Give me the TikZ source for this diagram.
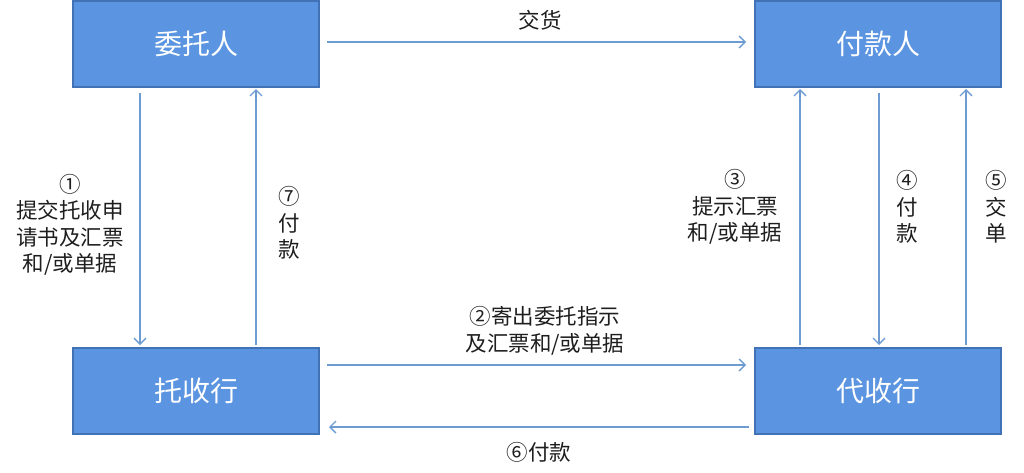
\documentclass[tikz,border=0pt]{standalone}
\usepackage{fontspec}
\setmainfont{Noto Sans CJK SC}
\usetikzlibrary{arrows.meta}
\definecolor{boxfill}{RGB}{91,148,224}
\definecolor{boxline}{RGB}{66,114,182}
\definecolor{arr}{RGB}{110,155,210}
\definecolor{txt}{RGB}{30,30,30}
\tikzset{
  party/.style={draw=boxline, line width=1.2pt, fill=boxfill, minimum width=246pt, minimum height=86pt, inner sep=0pt, text=white, font=\fontsize{28}{30}\selectfont},
  flow/.style={draw=arr, line width=1.4pt, -{Straight Barb[length=6pt,width=12pt,line width=1.3pt]}},
  lbl/.style={text=txt, align=center, inner sep=0pt, font=\fontsize{21.5}{26.5}\selectfont}
}
\begin{document}
\begin{tikzpicture}[x=1pt,y=-1pt]
\useasboundingbox (0,0) rectangle (1024,472);
\node[party] (A) at (196,44) {委托人};
\node[party] (B) at (878,44) {付款人};
\node[party] (C) at (196,391) {托收行};
\node[party] (D) at (878,391) {代收行};
% coordinates for connector ends
\coordinate (a1) at (140,93);  \coordinate (c1) at (140,345);
\coordinate (c7) at (256,345); \coordinate (a7) at (256,89);
\coordinate (d3) at (800,345); \coordinate (b3) at (800,89);
\coordinate (b4) at (879,93);  \coordinate (d4) at (879,345);
\coordinate (d5) at (966,345); \coordinate (b5) at (966,89);
\coordinate (ax) at (327,42);  \coordinate (bx) at (746,42);
\coordinate (c2) at (327,365); \coordinate (d2) at (746,365);
\coordinate (d6) at (749,427); \coordinate (c6) at (329,427);
\draw[flow] (ax) -- (bx);
\draw[flow] (a1) -- (c1);
\draw[flow] (c7) -- (a7);
\draw[flow] (c2) -- (d2);
\draw[flow] (d6) -- (c6);
\draw[flow] (d3) -- (b3);
\draw[flow] (b4) -- (d4);
\draw[flow] (d5) -- (b5);
\node[lbl] (lx) at (540,20) {交货};
\node[lbl] (l1) at (70,225) {①\\提交托收申\\请书及汇票\\和/或单据};
\node[lbl] (l7) at (289,223) {⑦\\付\\款};
\node[lbl] (l2) at (545,331) {②寄出委托指示\\及汇票和/或单据};
\node[lbl] (l6) at (539,452) {⑥付款};
\node[lbl] (l3) at (735,207) {③\\提示汇票\\和/或单据};
\node[lbl] (l4) at (907,207) {④\\付\\款};
\node[lbl] (l5) at (996,207) {⑤\\交\\单};
\end{tikzpicture}
\end{document}
